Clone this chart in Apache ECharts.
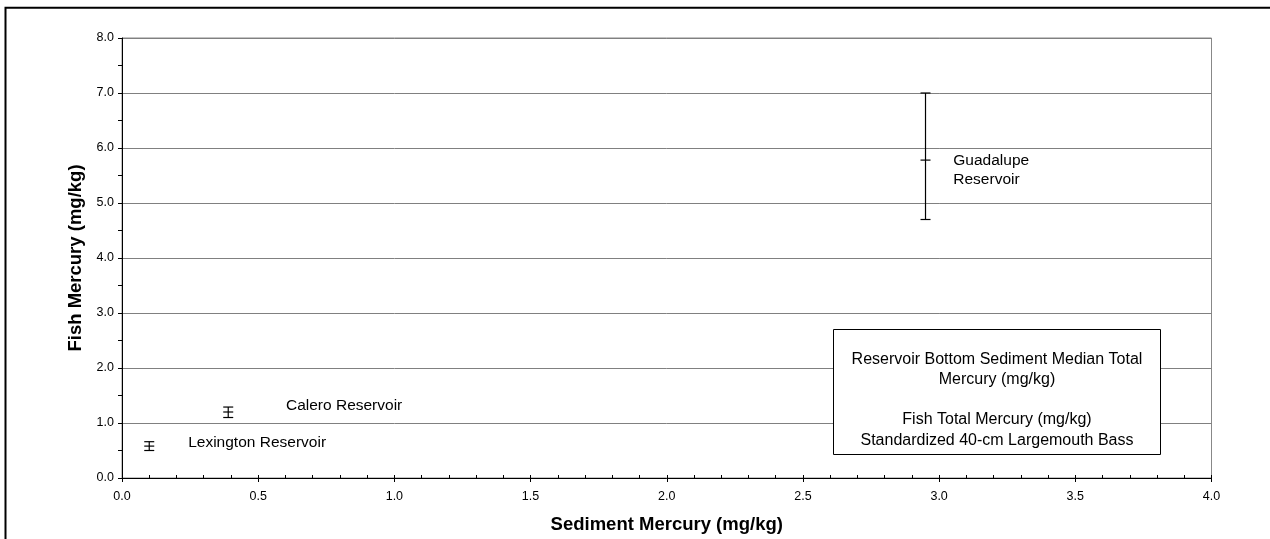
<!DOCTYPE html>
<html>
<head>
<meta charset="utf-8">
<script src="https://cdn.jsdelivr.net/npm/echarts@6/dist/echarts.min.js"></script>
<style>html,body{margin:0;padding:0;background:#fff;}#c{width:1270px;height:539px;}</style>
</head>
<body>
<div id="c"></div>
<script>
// Reservoirs: sediment mercury (x), fish mercury mean (y), low, high
var reservoirs = ['Lexington Reservoir', 'Calero Reservoir', 'Guadalupe Reservoir'];
var sedimentHg = [0.10, 0.39, 2.95];
var fishHg = [0.58, 1.20, 5.78];
var fishLow = [0.50, 1.10, 4.70];
var fishHigh = [0.66, 1.29, 7.00];
// Annotation anchors (data units) for reservoir names
var labelText = ['Lexington Reservoir', 'Calero Reservoir', 'Guadalupe\nReservoir'];
var labelX = [0.243, 0.602, 3.052];
var labelY = [0.64, 1.32, 5.60];
var boxText = 'Reservoir Bottom Sediment Median Total\nMercury (mg/kg)\n\nFish Total Mercury (mg/kg)\nStandardized 40-cm Largemouth Bass';

var errData = sedimentHg.map(function (x, i) { return [x, fishHg[i], fishLow[i], fishHigh[i]]; });
var lblData = labelX.map(function (x, i) { return { value: [x, labelY[i]], name: labelText[i] }; });

var chart = echarts.init(document.getElementById('c'));
var font = '"Liberation Sans", Arial, sans-serif';
chart.setOption({
  animation: false,
  backgroundColor: '#fff',
  grid: { left: 122, right: 58.5, top: 38, bottom: 61, show: true, borderColor: '#888', borderWidth: 1 },
  xAxis: [{
    type: 'value', min: 0, max: 4, interval: 0.5,
    name: 'Sediment Mercury (mg/kg)', nameLocation: 'middle', nameGap: 37,
    nameTextStyle: { fontFamily: font, fontWeight: 'bold', fontSize: 18.5, color: '#000' },
    axisLine: { show: true, lineStyle: { color: '#000', width: 1 } },
    axisTick: { show: true, inside: true, length: 3, lineStyle: { color: '#000' } },
    minorTick: { show: true, splitNumber: 5, length: 3, lineStyle: { color: '#000' } },
    axisLabel: { fontFamily: font, fontSize: 12.5, color: '#000', margin: 12, formatter: function (v) { return v.toFixed(1); } },
    splitLine: { show: false }
  }, {
    type: 'value', min: 0, max: 4, interval: 0.5, position: 'bottom',
    axisLine: { show: false },
    axisTick: { show: true, inside: false, length: 4, lineStyle: { color: '#000' } },
    axisLabel: { show: false },
    splitLine: { show: false }
  }],
  yAxis: {
    type: 'value', min: 0, max: 8, interval: 1,
    name: 'Fish Mercury (mg/kg)', nameLocation: 'middle', nameGap: 34,
    nameTextStyle: { fontFamily: font, fontWeight: 'bold', fontSize: 18.5, color: '#000' },
    axisLine: { show: true, lineStyle: { color: '#000', width: 1 } },
    axisTick: { show: true, inside: false, length: 4, lineStyle: { color: '#000' } },
    minorTick: { show: true, splitNumber: 2, length: 4, lineStyle: { color: '#000' } },
    axisLabel: { fontFamily: font, fontSize: 12.5, color: '#000', margin: 8, formatter: function (v) { return v.toFixed(1); } },
    splitLine: { show: true, lineStyle: { color: '#808080', width: 1 } }
  },
  series: [{
    type: 'custom',
    xAxisIndex: 0,
    data: errData,
    renderItem: function (params, api) {
      var c = api.coord([api.value(0), api.value(1)]);
      var lo = api.coord([api.value(0), api.value(2)]);
      var hi = api.coord([api.value(0), api.value(3)]);
      var hw = 5;
      var st = { stroke: '#000', lineWidth: 1.2 };
      return {
        type: 'group',
        children: [
          { type: 'line', shape: { x1: c[0], y1: lo[1], x2: c[0], y2: hi[1] }, style: st },
          { type: 'line', shape: { x1: c[0] - hw, y1: lo[1], x2: c[0] + hw, y2: lo[1] }, style: st },
          { type: 'line', shape: { x1: c[0] - hw, y1: hi[1], x2: c[0] + hw, y2: hi[1] }, style: st },
          { type: 'line', shape: { x1: c[0] - hw, y1: c[1], x2: c[0] + hw, y2: c[1] }, style: st }
        ]
      };
    }
  }, {
    type: 'scatter',
    xAxisIndex: 0,
    symbolSize: 0,
    itemStyle: { opacity: 1 },
    data: lblData,
    label: {
      show: true, position: 'right', distance: 0, opacity: 1,
      formatter: function (p) { return p.name; },
      fontFamily: font, fontSize: 15.5, color: '#000', lineHeight: 19, align: 'left'
    }
  }],
  graphic: [
    { type: 'rect', shape: { x: 5.5, y: 7.7, width: 1400, height: 700 }, style: { fill: 'none', stroke: '#000', lineWidth: 2 }, z: 100 },
    { type: 'rect', shape: { x: 833.5, y: 329.5, width: 327, height: 125 }, style: { fill: '#fff', stroke: '#000', lineWidth: 1 }, z: 100 },
    { type: 'text', x: 997, y: 349, style: { text: boxText, fill: '#000', font: '16px ' + font, textAlign: 'center', textVerticalAlign: 'top', lineHeight: 20.3 }, z: 101 }
  ]
});
</script>
</body>
</html>
